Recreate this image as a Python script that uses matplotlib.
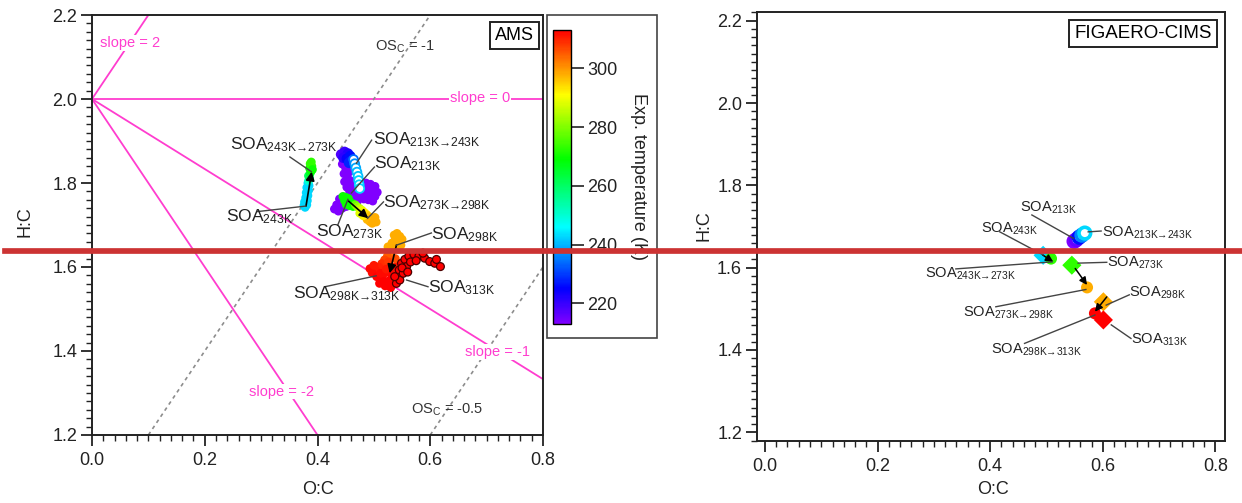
import numpy as np
import matplotlib
matplotlib.use('Agg')
import matplotlib.pyplot as plt
from matplotlib.colors import LinearSegmentedColormap, Normalize
from matplotlib.cm import ScalarMappable
from matplotlib.ticker import MultipleLocator, FormatStrFormatter
from matplotlib.lines import Line2D
from matplotlib.patches import Rectangle

plt.rcParams['font.family'] = ['Liberation Sans', 'DejaVu Sans']
plt.rcParams['mathtext.fontset'] = 'custom'
plt.rcParams['mathtext.rm'] = 'Liberation Sans'
plt.rcParams['mathtext.it'] = 'Liberation Sans:italic'
plt.rcParams['mathtext.bf'] = 'Liberation Sans:bold'

# ---------------- AMS (O:C, H:C) ----------------
# steady 213K (purple)
ams_213 = np.array([
    [0.470, 1.805], [0.478, 1.803], [0.486, 1.800], [0.494, 1.797], [0.502, 1.792],
    [0.468, 1.793], [0.476, 1.790], [0.484, 1.788], [0.492, 1.786], [0.500, 1.783], [0.506, 1.778],
    [0.470, 1.780], [0.478, 1.777], [0.486, 1.775], [0.494, 1.773], [0.502, 1.768],
    [0.466, 1.768], [0.474, 1.765], [0.482, 1.762], [0.490, 1.760], [0.498, 1.757],
    [0.462, 1.757], [0.470, 1.754],
    [0.430, 1.738], [0.437, 1.733], [0.444, 1.740], [0.451, 1.744], [0.434, 1.748],
    [0.441, 1.752], [0.448, 1.756], [0.455, 1.760], [0.439, 1.762], [0.446, 1.767],
    [0.444, 1.845], [0.450, 1.835], [0.456, 1.826], [0.447, 1.822], [0.453, 1.813],
    [0.459, 1.805], [0.462, 1.792], [0.457, 1.780], [0.452, 1.790], [0.448, 1.803],
])
# ramp 213K -> 243K (O:C, H:C, T)
ams_213_243 = np.array([
    [0.442, 1.868, 218], [0.448, 1.874, 220], [0.454, 1.870, 222], [0.446, 1.860, 221],
    [0.452, 1.858, 224], [0.458, 1.864, 226], [0.460, 1.852, 229], [0.456, 1.848, 228],
    [0.464, 1.856, 234], [0.466, 1.846, 237], [0.468, 1.836, 239], [0.470, 1.826, 240],
    [0.472, 1.816, 241], [0.473, 1.806, 242], [0.474, 1.796, 243], [0.475, 1.787, 243],
])
# steady 243K (cyan)
ams_243 = np.array([
    [0.378, 1.742], [0.381, 1.748], [0.377, 1.755], [0.382, 1.758], [0.379, 1.765],
    [0.383, 1.770], [0.380, 1.777], [0.384, 1.782], [0.381, 1.789], [0.385, 1.794],
    [0.383, 1.800], [0.376, 1.746],
])
ams_243_273 = np.array([
    [0.384, 1.805, 250], [0.386, 1.811, 256], [0.384, 1.817, 261], [0.387, 1.823, 265],
    [0.389, 1.829, 268], [0.386, 1.835, 270], [0.390, 1.840, 272], [0.387, 1.846, 273],
    [0.389, 1.850, 273], [0.391, 1.832, 270],
])
# steady 273K (green)
ams_273 = np.array([
    [0.445, 1.768], [0.450, 1.766], [0.455, 1.763], [0.448, 1.758], [0.453, 1.756],
    [0.458, 1.754], [0.462, 1.751], [0.451, 1.749], [0.457, 1.746], [0.463, 1.744],
])
ams_273_298 = np.array([
    [0.467, 1.748, 278], [0.471, 1.743, 282], [0.475, 1.739, 286], [0.479, 1.735, 289],
    [0.483, 1.730, 292], [0.487, 1.725, 294], [0.491, 1.720, 296], [0.495, 1.716, 297],
    [0.499, 1.712, 298], [0.493, 1.708, 298], [0.488, 1.713, 297], [0.502, 1.718, 298],
    [0.497, 1.704, 298], [0.504, 1.707, 298], [0.481, 1.722, 292], [0.475, 1.728, 288],
])
# steady 298K (orange)
ams_298 = np.array([
    [0.536, 1.676], [0.541, 1.680], [0.546, 1.673], [0.550, 1.666], [0.538, 1.667],
    [0.545, 1.660], [0.532, 1.657], [0.540, 1.652], [0.548, 1.652], [0.534, 1.646],
    [0.543, 1.642], [0.529, 1.638], [0.525, 1.648],
])
ams_298_313 = np.array([
    [0.530, 1.634, 302], [0.524, 1.626, 305], [0.519, 1.617, 307], [0.514, 1.608, 309],
    [0.509, 1.600, 310], [0.503, 1.592, 311], [0.497, 1.586, 312], [0.493, 1.596, 312],
    [0.505, 1.577, 313], [0.515, 1.571, 313], [0.525, 1.566, 313], [0.532, 1.580, 313],
    [0.520, 1.586, 312], [0.536, 1.592, 312], [0.540, 1.602, 311], [0.529, 1.602, 310],
    [0.510, 1.561, 313], [0.520, 1.555, 313], [0.530, 1.551, 313], [0.545, 1.575, 313],
    [0.500, 1.604, 311], [0.538, 1.620, 306], [0.526, 1.612, 308], [0.512, 1.585, 312],
    [0.522, 1.595, 311], [0.535, 1.560, 313], [0.541, 1.588, 312],
])
# steady 313K (dark red)
ams_313 = np.array([
    [0.540, 1.561], [0.543, 1.577], [0.545, 1.593], [0.549, 1.609], [0.555, 1.618],
    [0.562, 1.626], [0.571, 1.630], [0.580, 1.626], [0.590, 1.621], [0.599, 1.613],
    [0.608, 1.609], [0.618, 1.601], [0.611, 1.618], [0.587, 1.633], [0.546, 1.569],
    [0.552, 1.585], [0.558, 1.601], [0.537, 1.577], [0.565, 1.612], [0.575, 1.615],
    [0.550, 1.598], [0.560, 1.588],
])
ams_arrows = [((0.3796, 1.745), (0.3897, 1.827)),
              ((0.455, 1.757), (0.490, 1.716)),
              ((0.540, 1.652), (0.528, 1.585))]

# labels: subscript, text position (left, baseline), leader line from, leader line to
ams_labels = [
    ('243K\u2192273K', (0.244, 1.881), (0.351, 1.862), (0.389, 1.827)),
    ('243K',           (0.238, 1.710), (0.294, 1.732), (0.379, 1.745)),
    ('213K\u2192243K', (0.498, 1.893), (0.496, 1.902), (0.469, 1.847)),
    ('213K',           (0.501, 1.834), (0.501, 1.838), (0.460, 1.776)),
    ('273K\u2192298K', (0.517, 1.741), (0.517, 1.755), (0.489, 1.716)),
    ('273K',           (0.397, 1.674), (0.436, 1.700), (0.454, 1.761)),
    ('298K',           (0.602, 1.667), (0.602, 1.681), (0.540, 1.652)),
    ('298K\u2192313K', (0.357, 1.525), (0.413, 1.553), (0.504, 1.579)),
    ('313K',           (0.596, 1.539), (0.596, 1.553), (0.558, 1.569)),
]

# reference lines in the Van Krevelen space
slope_start = (0.0, 2.0)
slope_ends = [(0.1, 2.2), (0.8, 2.0), (0.8, 1.333), (0.4, 1.2)]
osc_lines = [((0.1, 1.2), (0.6, 2.2)), ((0.6, 1.2), (0.8, 1.6))]

# ---------------- FIGAERO-CIMS ----------------
cims_steady_oc = [0.494, 0.545, 0.601, 0.601]
cims_steady_hc = [1.630, 1.606, 1.517, 1.473]
cims_steady_T = [243, 273, 298, 313]
cims_ramp_oc = [0.508, 0.572, 0.586]
cims_ramp_hc = [1.622, 1.552, 1.489]
cims_ramp_T = [273, 298, 313]
cims_213_oc = [0.549, 0.553, 0.558, 0.563, 0.568]
cims_213_hc = [1.664, 1.668, 1.674, 1.679, 1.684]
cims_213_T = [213, 216, 226, 236, 243]
cims_arrows = [((0.493, 1.631), (0.512, 1.614)),
               ((0.551, 1.598), (0.572, 1.558)),
               ((0.607, 1.529), (0.586, 1.493))]
cims_labels = [
    ('213K',           (0.453, 1.736), (0.474, 1.728), (0.548, 1.671)),
    ('243K',           (0.384, 1.684), (0.417, 1.687), (0.494, 1.631)),
    ('213K\u2192243K', (0.599, 1.675), (0.597, 1.689), (0.574, 1.687)),
    ('273K',           (0.607, 1.602), (0.607, 1.613), (0.556, 1.611)),
    ('243K\u2192273K', (0.284, 1.577), (0.339, 1.597), (0.510, 1.614)),
    ('273K\u2192298K', (0.352, 1.481), (0.410, 1.505), (0.570, 1.547)),
    ('298K',           (0.647, 1.530), (0.647, 1.534), (0.606, 1.509)),
    ('298K\u2192313K', (0.401, 1.392), (0.461, 1.416), (0.586, 1.485)),
    ('313K',           (0.650, 1.416), (0.650, 1.428), (0.615, 1.461)),
]

temp_ticks = [220, 240, 260, 280, 300]

# ---------------- figure ----------------
W, H = 1242, 503
fig = plt.figure(figsize=(W / 100, H / 100), dpi=100)

def rect(x0, y0, x1, y1):
    return [x0 / W, 1 - y1 / H, (x1 - x0) / W, (y1 - y0) / H]

cmap = LinearSegmentedColormap.from_list(
    'igor_rainbow',
    [(0.0, '#8000ff'), (0.12, '#0000ff'), (0.33, '#00ffff'),
     (0.56, '#00ff00'), (0.78, '#ffff00'), (1.0, '#ff0000')])
norm = Normalize(213, 313)
magenta = '#ff3dcf'
grey = '#8c8c8c'

ax1 = fig.add_axes(rect(92, 15, 543, 435))
ax2 = fig.add_axes(rect(756.7, 12.3, 1225, 440.7))
cax = fig.add_axes(rect(553.3, 30, 570.7, 324))

for ax in (ax1, ax2):
    ax.xaxis.set_major_locator(MultipleLocator(0.2))
    ax.xaxis.set_minor_locator(MultipleLocator(0.02))
    ax.yaxis.set_major_locator(MultipleLocator(0.2))
    ax.yaxis.set_minor_locator(MultipleLocator(0.02))
    ax.xaxis.set_major_formatter(FormatStrFormatter('%.1f'))
    ax.yaxis.set_major_formatter(FormatStrFormatter('%.1f'))
    ax.tick_params(which='major', direction='out', length=8, width=1.3,
                   labelsize=13, colors='#222222')
    ax.tick_params(which='minor', direction='out', length=4.5, width=1.0,
                   colors='#222222')
    ax.tick_params(axis='x', pad=4.5)
    ax.tick_params(axis='y', pad=2.5)
    for sp in ax.spines.values():
        sp.set_linewidth(1.4)
        sp.set_color('#222222')

ax1.set_xlim(0, 0.8)
ax1.set_ylim(1.2, 2.2)
ax2.set_xlim(-0.0147, 0.817)
ax2.set_ylim(1.1796, 2.2204)

# reference lines
for end in slope_ends:
    ax1.plot([slope_start[0], end[0]], [slope_start[1], end[1]], color=magenta,
             lw=1.3, zorder=1)
for (p0, p1) in osc_lines:
    ax1.plot([p0[0], p1[0]], [p0[1], p1[1]], color=grey, lw=1.2,
             ls=(0, (2.2, 2.2)), zorder=1)

wbox = dict(facecolor='white', edgecolor='none', pad=0.5)
ax1.text(0.014, 2.133, 'slope = 2', color=magenta, fontsize=10.5, ha='left',
         va='center', bbox=wbox, zorder=2)
ax1.text(0.688, 2.003, 'slope = 0', color=magenta, fontsize=10.5, ha='center',
         va='center', bbox=wbox, zorder=2)
ax1.text(0.72, 1.398, 'slope = -1', color=magenta, fontsize=10.5, ha='center',
         va='center', bbox=wbox, zorder=2)
ax1.text(0.337, 1.303, 'slope = -2', color=magenta, fontsize=10.5, ha='center',
         va='center', bbox=wbox, zorder=2)
ax1.text(0.556, 2.125, r'OS$_{\rm C}$ = -1', color='#333333', fontsize=10.5,
         ha='center', va='center', zorder=2)
ax1.text(0.63, 1.26, r'OS$_{\rm C}$ = -0.5', color='#333333', fontsize=10.5,
         ha='center', va='center', zorder=2)

# AMS scatter
S = 40
ax1.scatter(ams_213[:, 0], ams_213[:, 1], c=np.full(len(ams_213), 213.0),
            cmap=cmap, norm=norm, s=S, edgecolors='none', zorder=3)
ramp_cols = cmap(norm(ams_213_243[:, 2]))
face = np.where((ams_213_243[:, 2] < 232)[:, None], ramp_cols, np.array([1, 1, 1, 1.0]))
ax1.scatter(ams_213_243[:, 0], ams_213_243[:, 1], facecolors=face,
            edgecolors=ramp_cols, linewidths=1.3, s=S, zorder=3)
ax1.scatter(ams_243[:, 0], ams_243[:, 1], c=np.full(len(ams_243), 243.0),
            cmap=cmap, norm=norm, s=S, edgecolors='none', zorder=3)
ax1.scatter(ams_243_273[:, 0], ams_243_273[:, 1], c=ams_243_273[:, 2],
            cmap=cmap, norm=norm, s=S, edgecolors='none', zorder=3)
ax1.scatter(ams_273[:, 0], ams_273[:, 1], c=np.full(len(ams_273), 270.0),
            cmap=cmap, norm=norm, s=S, edgecolors='none', zorder=3)
ax1.scatter(ams_273_298[:, 0], ams_273_298[:, 1], c=ams_273_298[:, 2],
            cmap=cmap, norm=norm, s=S, edgecolors='none', zorder=3)
ax1.scatter(ams_298[:, 0], ams_298[:, 1], c=np.full(len(ams_298), 298.0),
            cmap=cmap, norm=norm, s=S, edgecolors='none', zorder=3)
ax1.scatter(ams_298_313[:, 0], ams_298_313[:, 1], c=ams_298_313[:, 2],
            cmap=cmap, norm=norm, s=S, edgecolors='none', zorder=3)
ax1.scatter(ams_313[:, 0], ams_313[:, 1], c=np.full(len(ams_313), 313.0),
            cmap=cmap, norm=norm, s=32, edgecolors='#4a0000', linewidths=0.9,
            zorder=3)

for (p0, p1) in ams_arrows:
    ax1.annotate('', xy=p1, xytext=p0, zorder=4,
                 arrowprops=dict(arrowstyle='-|>', color='k', lw=1.2,
                                 mutation_scale=13, shrinkA=0, shrinkB=0))

for sub, tpos, l0, l1 in ams_labels:
    ax1.plot([l0[0], l1[0]], [l0[1], l1[1]], color='#444444', lw=1.0, zorder=4)
    ax1.text(tpos[0], tpos[1], r'SOA$_{\rm %s}$' % sub, fontsize=12.5,
             ha='left', va='baseline', color='#222222', zorder=5)

ax1.text(0.937, 0.952, 'AMS', transform=ax1.transAxes, fontsize=13,
         ha='center', va='center', zorder=6,
         bbox=dict(boxstyle='square,pad=0.28', facecolor='white',
                   edgecolor='#222222', lw=1.4))

# FIGAERO-CIMS
ax2.scatter(cims_213_oc, cims_213_hc, facecolors='white',
            edgecolors=cmap(norm(np.array(cims_213_T, dtype=float))),
            linewidths=2.6, s=70, zorder=3)
ax2.scatter(cims_steady_oc, cims_steady_hc, c=cims_steady_T, cmap=cmap,
            norm=norm, marker='D', s=95, edgecolors='none', zorder=3)
ax2.scatter(cims_ramp_oc, cims_ramp_hc, c=cims_ramp_T, cmap=cmap, norm=norm,
            marker='o', s=75, edgecolors='none', zorder=3)
for (p0, p1) in cims_arrows:
    ax2.annotate('', xy=p1, xytext=p0, zorder=4,
                 arrowprops=dict(arrowstyle='-|>', color='k', lw=1.1,
                                 mutation_scale=11, shrinkA=0, shrinkB=0))
for sub, tpos, l0, l1 in cims_labels:
    ax2.plot([l0[0], l1[0]], [l0[1], l1[1]], color='#444444', lw=1.0, zorder=4)
    ax2.text(tpos[0], tpos[1], r'SOA$_{\rm %s}$' % sub, fontsize=10.5,
             ha='left', va='baseline', color='#222222', zorder=5)

ax2.text(0.825, 0.951, 'FIGAERO-CIMS', transform=ax2.transAxes, fontsize=13.5,
         ha='center', va='center', zorder=6,
         bbox=dict(boxstyle='square,pad=0.28', facecolor='white',
                   edgecolor='#222222', lw=1.4))

# axis labels
fig.text(25 / W, 1 - 222 / H, 'H:C', rotation=90, ha='center', va='center',
         fontsize=13, color='#222222')
fig.text(704 / W, 1 - 226 / H, 'H:C', rotation=90, ha='center', va='center',
         fontsize=13, color='#222222')
fig.text(318 / W, 1 - 490 / H, 'O:C', ha='center', va='center', fontsize=13,
         color='#222222')
fig.text(993 / W, 1 - 490 / H, 'O:C', ha='center', va='center', fontsize=13,
         color='#222222')

# colorbar
cb = fig.colorbar(ScalarMappable(norm=norm, cmap=cmap), cax=cax)
cb.set_ticks(temp_ticks)
cb.outline.set_linewidth(1.0)
cax.tick_params(length=9, width=1.2, labelsize=13, pad=3, colors='#222222')
fig.text(638.5 / W, 1 - 177 / H, 'Exp. temperature (K)', rotation=-90,
         ha='center', va='center', fontsize=13, color='#222222')
fig.add_artist(Rectangle((546.7 / W, 1 - 338 / H), 110.3 / W, 323 / H,
                         transform=fig.transFigure, fill=False,
                         edgecolor='#444444', lw=1.2))

# red horizontal marker line across the figure
fig.add_artist(Line2D([5 / W, 1.0], [1 - 251.2 / H] * 2, transform=fig.transFigure,
                      color='#cc3333', lw=4.1, zorder=10))

fig.savefig('out.png', dpi=100)
